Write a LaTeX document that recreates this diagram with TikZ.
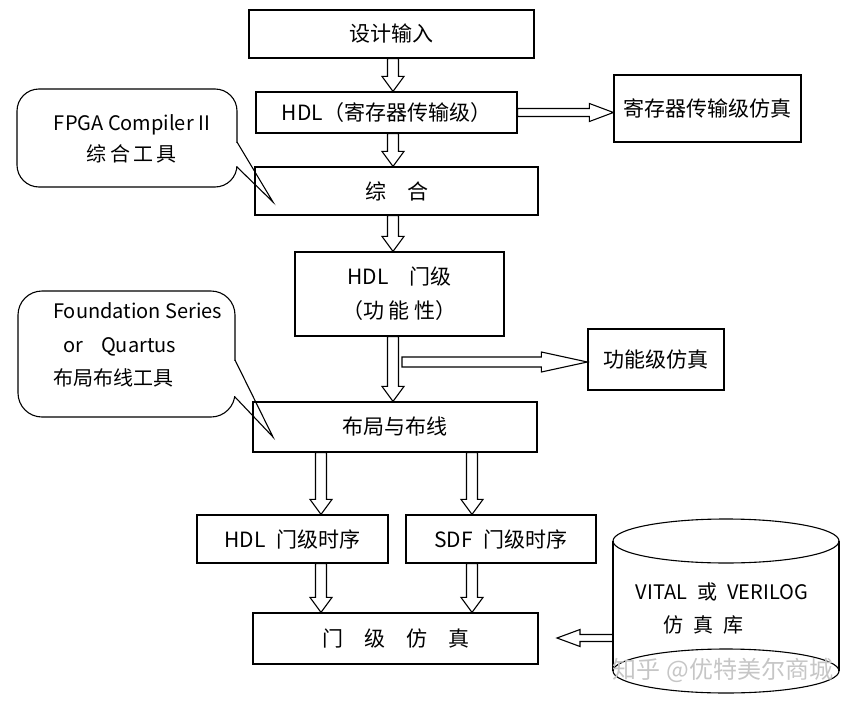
\documentclass[tikz,border=0pt]{standalone}
\usepackage{fontspec}
\setmainfont{Noto Sans CJK SC}
\usetikzlibrary{positioning, calc}

\tikzset{
    stepbox/.style={rectangle, draw=black, line width=1.2pt, inner sep=0pt, align=center, font=\fontsize{21}{25}\selectfont},
    hollow/.style={draw=black, line width=1.1pt, line join=miter},
    bubble/.style={draw=black, line width=1.1pt},
    tooltext/.style={inner sep=0pt, font=\fontsize{20}{31}\selectfont},
}

% hollow block arrow pointing down, at the x of #1, from #2 to #3
\newcommand{\blkdown}[3]{%
    \draw[hollow] let \p0=(#1), \p1=(#2.south), \p2=(#3.north) in
        (\x0-5.5pt,\y1) -- (\x0-5.5pt,\y2+15pt) -- (\x0-11pt,\y2+15pt) -- (\x0,\y2)
        -- (\x0+11pt,\y2+15pt) -- (\x0+5.5pt,\y2+15pt) -- (\x0+5.5pt,\y1) -- cycle;
}
% hollow block arrow sideways: start, tip, shaft half, head half, head length
\newcommand{\blkside}[5]{%
    \draw[hollow] let \p1=(#1), \p2=(#2), \n1={sign(\x2-\x1)} in
        (\x1,\y1+#3) -- (\x2-\n1*#5,\y1+#3) -- (\x2-\n1*#5,\y1+#4) -- (\x2,\y1)
        -- (\x2-\n1*#5,\y1-#4) -- (\x2-\n1*#5,\y1-#3) -- (\x1,\y1-#3) -- cycle;
}

\begin{document}
\begin{tikzpicture}[x=1pt, y=-1pt]
    \useasboundingbox (0,0) rectangle (846,712);

    % main flow
    \node[stepbox, minimum width=285pt, minimum height=48pt] (design) at (391.5,34) {设计输入};
    \node[stepbox, minimum width=261pt, minimum height=41pt] (rtl) at (386.5,112.5) {HDL（寄存器传输级）};
    \node[stepbox, minimum width=187pt, minimum height=67pt] (rtlsim) at (707.5,108.5) {寄存器传输级仿真};
    \node[stepbox, minimum width=283pt, minimum height=48pt] (synth) at (396.5,191) {综\quad 合};
    \node[stepbox, minimum width=209pt, minimum height=84pt, font=\fontsize{21}{34}\selectfont] (gate) at (399.5,294) {HDL\quad 门级\\（功 能 性）};
    \node[stepbox, minimum width=136pt, minimum height=61pt] (funcsim) at (656,359.5) {功能级仿真};
    \node[stepbox, minimum width=284pt, minimum height=50pt] (par) at (395,427) {布局与布线};
    \node[stepbox, minimum width=191pt, minimum height=48pt] (hdltime) at (292.5,539) {HDL\enspace 门级时序};
    \node[stepbox, minimum width=190pt, minimum height=48pt] (sdftime) at (501,539) {SDF\enspace 门级时序};
    \node[stepbox, minimum width=285pt, minimum height=51pt] (gatesim) at (395.5,638.5) {门\quad 级\quad 仿\quad 真};

    \coordinate (mainline) at (393,0);
    \coordinate (leftline) at (321,0);
    \coordinate (rightline) at (472,0);
    \coordinate (branch) at (402,362);
    \coordinate (libtip) at (557,638);
    \coordinate (libport) at (613,638);

    \blkdown{mainline}{design}{rtl}
    \blkdown{mainline}{rtl}{synth}
    \blkdown{mainline}{synth}{gate}
    \blkdown{mainline}{gate}{par}
    \blkdown{leftline}{par}{hdltime}
    \blkdown{rightline}{par}{sdftime}
    \blkdown{leftline}{hdltime}{gatesim}
    \blkdown{rightline}{sdftime}{gatesim}
    \blkside{rtl.east}{rtlsim.west}{4pt}{9pt}{24pt}
    \blkside{branch}{funcsim.west}{5pt}{10pt}{46pt}
    \blkside{libport}{libtip}{3.5pt}{8.5pt}{23pt}

    % tool callouts
    \node[tooltext, align=center] (fpgatool) at (132,138.5) {FPGA Compiler II\\综\,合\,工\,具};
    \coordinate (fpgatip) at (273,202);
    \draw[bubble, rounded corners=22pt] (17,89) rectangle (237,187);
    \fill[white] (235,143) rectangle (239,166);
    \draw[bubble] (237,142) -- (fpgatip) -- (237,167);

    \node[tooltext, align=left, anchor=west, font=\fontsize{20}{33.5}\selectfont] (partool) at (53,345) {Foundation Series\\\hspace*{10pt}or\hspace{18pt}Quartus\\布局布线工具};
    \coordinate (partip) at (273,437);
    \draw[bubble, rounded corners=24pt] (18,291) rectangle (235,417);
    \fill[white] (233,361) rectangle (237,396);
    \draw[bubble] (235,360) -- (partip) -- (235,397);

    % simulation library
    \draw[bubble] (726,541) ellipse [x radius=113pt, y radius=22pt];
    \draw[bubble] (726,671) ellipse [x radius=113pt, y radius=22pt];
    \draw[bubble] (613,541) -- (613,671) (839,541) -- (839,671);
    \node[tooltext, align=left, font=\fontsize{20}{33}\selectfont] (simlib) at (722,608) {VITAL\enspace 或\enspace VERILOG\\\hspace*{28pt}仿\enspace 真\enspace 库};
    \node[text=gray!45, font=\fontsize{24}{28}\selectfont] (zhihu) at (723,670) {知乎 @优特美尔商城};
\end{tikzpicture}
\end{document}
